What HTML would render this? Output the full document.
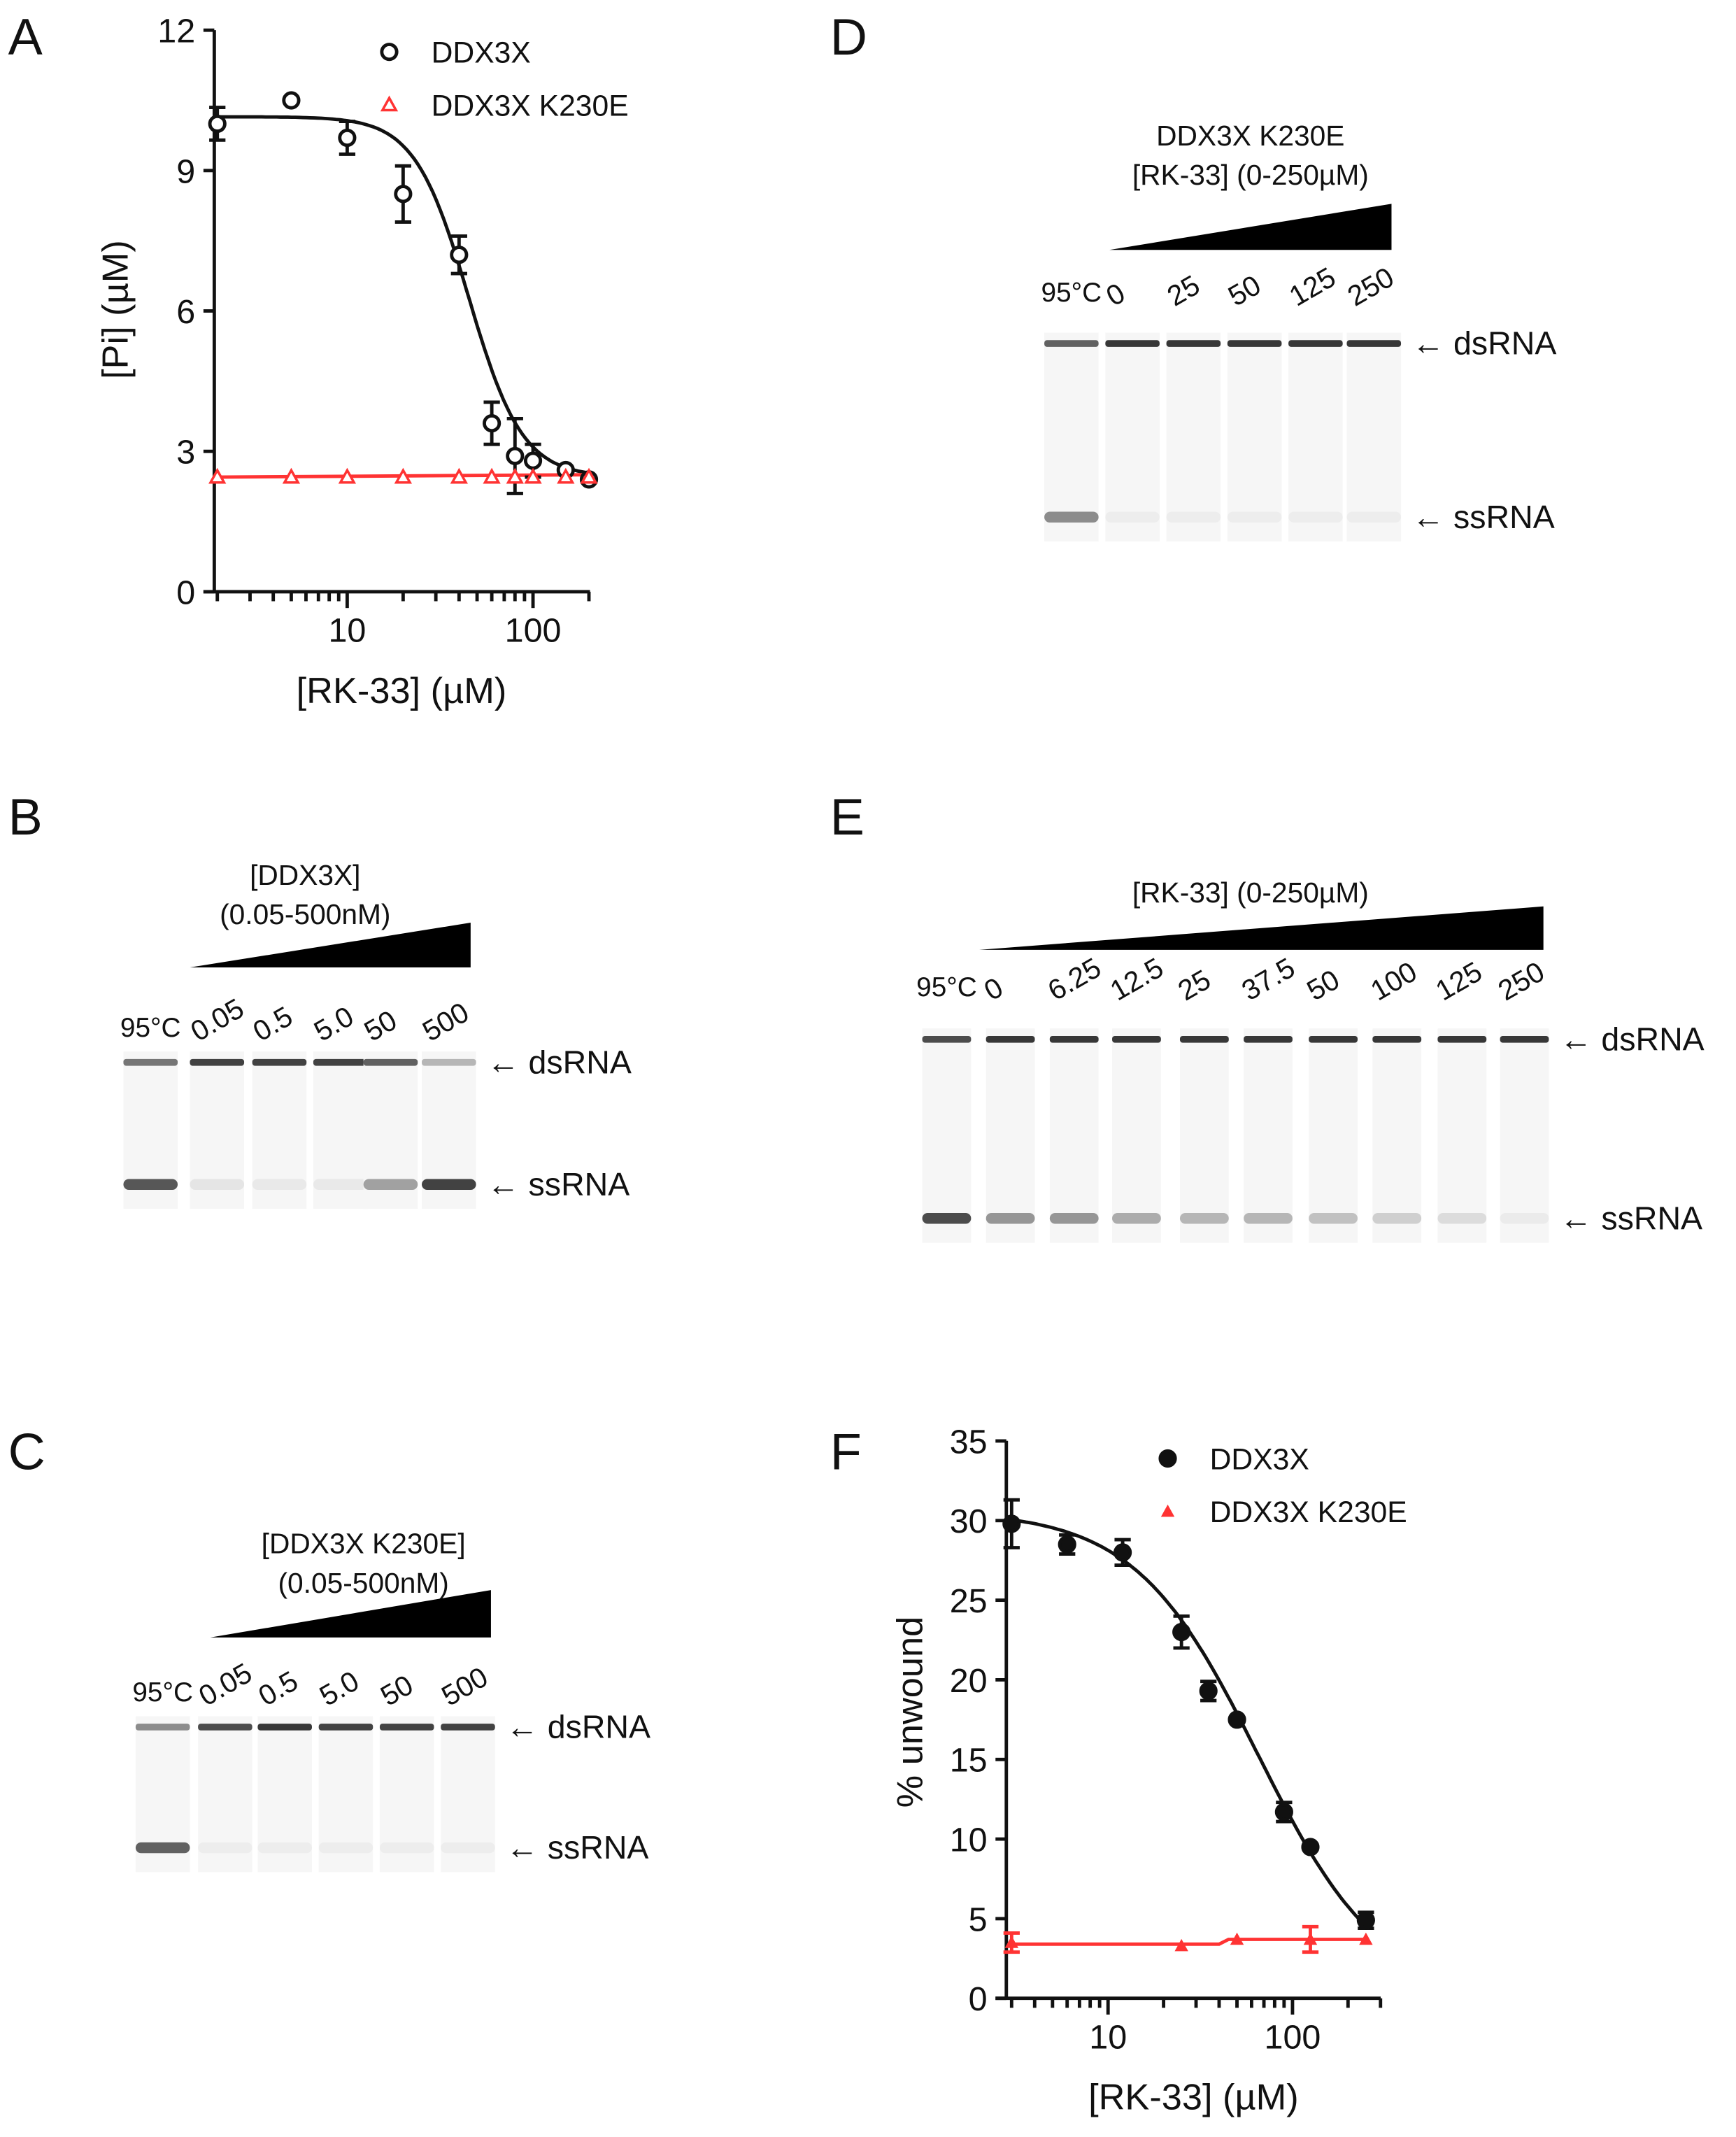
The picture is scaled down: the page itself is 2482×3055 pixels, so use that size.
<!DOCTYPE html>
<html><head><meta charset="utf-8"><style>html,body{margin:0;padding:0;background:#fff}svg{display:block}text{font-family:"Liberation Sans",Arial,sans-serif;fill:#111}</style></head>
<body>
<svg id="s" width="2482" height="3055" viewBox="0 0 1280 1575" xmlns="http://www.w3.org/2000/svg">
<rect width="1280" height="1575" fill="#fff"/>
<g font-size="38"><text x="6" y="40">A</text><text x="6" y="615">B</text><text x="6" y="1083">C</text><text x="612" y="40">D</text><text x="612" y="615">E</text><text x="612" y="1083">F</text></g>
<g id="A" stroke="#111" stroke-width="2.5" fill="none"></g>
<g id="F" stroke="#111" stroke-width="2.5" fill="none"></g>
<g id="gels"></g>
<g id="txt" font-size="22"></g>
</svg>
<script>
const NS="http://www.w3.org/2000/svg";
function el(p,t,a,txt){const e=document.createElementNS(NS,t);for(const k in a)e.setAttribute(k,a[k]);if(txt!==undefined)e.textContent=txt;p.appendChild(e);return e;}
const S=document.getElementById('s');
function axes(g,o){
 el(g,'line',{x1:o.x0,y1:o.yb,x2:o.x0,y2:o.yt});
 el(g,'line',{x1:o.x0-8,y1:o.yb,x2:o.x1,y2:o.yb});
 o.yticks.forEach(v=>{const y=o.Y(v);el(g,'line',{x1:o.x0-8,y1:y,x2:o.x0,y2:y});el(S,'text',{x:o.x0-14,y:y+9,'font-size':25,'text-anchor':'end'},v);});
 for(let d=1;d<=1000;d*=10)for(let m=1;m<10;m++){const v=d*m;const x=o.X(v);if(x<o.x0-1||x>o.x1+1)continue;const big=m==1;el(g,'line',{x1:x,y1:o.yb,x2:x,y2:o.yb+(big?12:7)});if(big)el(S,'text',{x:x,y:o.yb+37,'font-size':25,'text-anchor':'middle'},v);}
}
(function(){const g=document.getElementById('A');
const X=v=>256+137*Math.log10(v/10),Y=v=>436-34.5*v;
axes(g,{x0:158,x1:435,yb:436,yt:22,X,Y,yticks:[0,3,6,9,12]});
let d='';for(let i=0;i<=100;i++){const lx=Math.log10(2)+i/100*(Math.log10(200)-Math.log10(2));const v=Math.pow(10,lx);const y=2.45+(10.15-2.45)/(1+Math.pow(v/45,3));d+=(i?'L':'M')+X(v).toFixed(1)+','+Y(y).toFixed(1);}
el(g,'path',{d});
el(g,'line',{x1:X(2),y1:Y(2.45),x2:X(200),y2:Y(2.5),stroke:'#f33'});
const pts=[[2,10,0.35],[5,10.5,0],[10,9.7,0.35],[20,8.5,0.6],[40,7.2,0.4],[60,3.6,0.45],[80,2.9,0.8],[100,2.8,0.35],[150,2.6,0],[200,2.4,0]];
pts.forEach(p=>{const x=X(p[0]),y=Y(p[1]);if(p[2]){el(g,'line',{x1:x,y1:Y(p[1]-p[2]),x2:x,y2:Y(p[1]+p[2])});el(g,'line',{x1:x-6,y1:Y(p[1]+p[2]),x2:x+6,y2:Y(p[1]+p[2])});el(g,'line',{x1:x-6,y1:Y(p[1]-p[2]),x2:x+6,y2:Y(p[1]-p[2])});}
el(g,'circle',{cx:x,cy:y,r:5.5,fill:'#fff'});});
[2,5,10,20,40,60,80,100,150,200].forEach(v=>{const x=X(v),y=Y(2.45);el(g,'path',{d:`M${x-5},${y+4}L${x+5},${y+4}L${x},${y-5}Z`,stroke:'#f33','stroke-width':1.8,fill:'#fff'});});
el(g,'circle',{cx:287,cy:38,r:5.5,fill:'#fff'});el(g,'path',{d:'M282,81L292,81L287,72Z',stroke:'#f33','stroke-width':1.8});
el(S,'text',{x:318,y:46,'font-size':22},'DDX3X');el(S,'text',{x:318,y:85,'font-size':22},'DDX3X K230E');
el(S,'text',{x:0,y:0,'font-size':27,'text-anchor':'middle',transform:'translate(94,228) rotate(-90)'},'[Pi] (µM)');
el(S,'text',{x:296,y:518,'font-size':27,'text-anchor':'middle'},'[RK-33] (µM)');
})();
(function(){const g=document.getElementById('F');
const X=v=>817+136*Math.log10(v/10),Y=v=>1473-11.74*v;
axes(g,{x0:742,x1:1018,yb:1473,yt:1062,X,Y,yticks:[0,5,10,15,20,25,30,35]});
let d='';for(let i=0;i<=100;i++){const lx=Math.log10(3)+i/100*(Math.log10(250)-Math.log10(3));const v=Math.pow(10,lx);const y=30.6/(1+Math.pow(v/65,1.3));d+=(i?'L':'M')+X(v).toFixed(1)+','+Y(y).toFixed(1);}
el(g,'path',{d});
el(g,'path',{d:`M${X(3)},${Y(3.4)}L${X(40)},${Y(3.4)}L${X(45)},${Y(3.7)}L${X(250)},${Y(3.7)}`,stroke:'#f33'});
const pts=[[3,29.8,1.5],[6,28.5,0.6],[12,28,0.8],[25,23,1],[35,19.3,0.6],[50,17.5,0],[90,11.7,0.6],[125,9.5,0],[250,4.9,0.5]];
pts.forEach(p=>{const x=X(p[0]),y=Y(p[1]);if(p[2]){el(g,'line',{x1:x,y1:Y(p[1]-p[2]),x2:x,y2:Y(p[1]+p[2])});el(g,'line',{x1:x-6,y1:Y(p[1]+p[2]),x2:x+6,y2:Y(p[1]+p[2])});el(g,'line',{x1:x-6,y1:Y(p[1]-p[2]),x2:x+6,y2:Y(p[1]-p[2])});}
el(g,'circle',{cx:x,cy:y,r:5.5,fill:'#111'});});
[[3,3.5,0.6],[25,3.3,0],[50,3.7,0],[125,3.7,0.8],[250,3.7,0]].forEach(p=>{const x=X(p[0]),y=Y(p[1]);if(p[2]){el(g,'line',{x1:x,y1:Y(p[1]-p[2]),x2:x,y2:Y(p[1]+p[2]),stroke:'#f33'});el(g,'line',{x1:x-6,y1:Y(p[1]+p[2]),x2:x+6,y2:Y(p[1]+p[2]),stroke:'#f33'});el(g,'line',{x1:x-6,y1:Y(p[1]-p[2]),x2:x+6,y2:Y(p[1]-p[2]),stroke:'#f33'});}
el(g,'path',{d:`M${x-5},${y+4}L${x+5},${y+4}L${x},${y-5}Z`,stroke:'none',fill:'#f33'});});
el(g,'circle',{cx:861,cy:1075,r:5.5,fill:'#111'});el(g,'path',{d:'M856,1118L866,1118L861,1109Z',stroke:'none',fill:'#f33'});
el(S,'text',{x:892,y:1083,'font-size':22},'DDX3X');el(S,'text',{x:892,y:1122,'font-size':22},'DDX3X K230E');
el(S,'text',{x:0,y:0,'font-size':27,'text-anchor':'middle',transform:'translate(680,1262) rotate(-90)'},'% unwound');
el(S,'text',{x:880,y:1555,'font-size':27,'text-anchor':'middle'},'[RK-33] (µM)');
})();
function gel(o){const g=document.getElementById('gels');
const w=o.lw||40;
o.lanes.forEach((x,i)=>{el(g,'rect',{x:x-w/2,y:o.ds-8,width:w,height:o.ss-o.ds+26,fill:'#f6f6f6'});
el(g,'rect',{x:x-w/2,y:o.ds-2.5,width:w,height:5,rx:2,fill:'#222','fill-opacity':o.dsI?o.dsI[i]:0.85});
el(g,'rect',{x:x-w/2,y:o.ss-4,width:w,height:8,rx:4,fill:'#222','fill-opacity':o.ssI[i]});
if(i==0)el(S,'text',{x:x,y:o.ly+4,'font-size':20,'text-anchor':'middle'},o.labels[i]);
else el(S,'text',{x:0,y:0,'font-size':21,transform:`translate(${x-14},${o.ly+8}) rotate(-30)`},o.labels[i]);});
el(g,'path',{d:`M${o.wx0},${o.wy}L${o.wx1},${o.wy-o.wh}L${o.wx1},${o.wy}Z`,fill:'#000'});
const ax=o.lanes[o.lanes.length-1]+w/2+8;
el(S,'text',{x:ax,y:o.ds+8,'font-size':24},'← dsRNA');el(S,'text',{x:ax,y:o.ss+8,'font-size':24},'← ssRNA');
o.title.forEach((t,i)=>el(S,'text',{x:o.tx,y:o.ty+i*29,'font-size':21,'text-anchor':'middle'},t));}
gel({lanes:[111,160,206,251,288,331],ds:783,ss:873,ly:760,labels:['95°C','0.05','0.5','5.0','50','500'],ssI:[0.75,0.08,0.06,0.06,0.4,0.85],dsI:[0.6,0.85,0.85,0.85,0.7,0.3],wx0:140,wx1:347,wy:713,wh:33,title:['[DDX3X]','(0.05-500nM)'],tx:225,ty:652});
gel({lanes:[120,166,210,255,300,345],ds:1273,ss:1362,ly:1250,labels:['95°C','0.05','0.5','5.0','50','500'],ssI:[0.7,0.04,0.04,0.04,0.04,0.04],dsI:[0.5,0.8,0.9,0.85,0.85,0.85],wx0:155,wx1:362,wy:1207,wh:35,title:['[DDX3X K230E]','(0.05-500nM)'],tx:268,ty:1145});
gel({lanes:[790,835,880,925,970,1013],ds:253,ss:381,ly:218,labels:['95°C','0','25','50','125','250'],ssI:[0.5,0.04,0.04,0.04,0.04,0.04],dsI:[0.7,0.9,0.9,0.9,0.9,0.9],wx0:818,wx1:1026,wy:184,wh:34,title:['DDX3X K230E','[RK-33] (0-250µM)'],tx:922,ty:107});
gel({lanes:[698,745,792,838,888,935,983,1030,1078,1124],ds:766,ss:898,ly:730,labels:['95°C','0','6.25','12.5','25','37.5','50','100','125','250'],ssI:[0.8,0.45,0.45,0.35,0.3,0.3,0.25,0.18,0.12,0.05],dsI:[0.8,0.9,0.9,0.9,0.9,0.9,0.9,0.9,0.9,0.9],lw:36,wx0:722,wx1:1138,wy:700,wh:32,title:['[RK-33] (0-250µM)'],tx:922,ty:665});
</script>
</body></html>
